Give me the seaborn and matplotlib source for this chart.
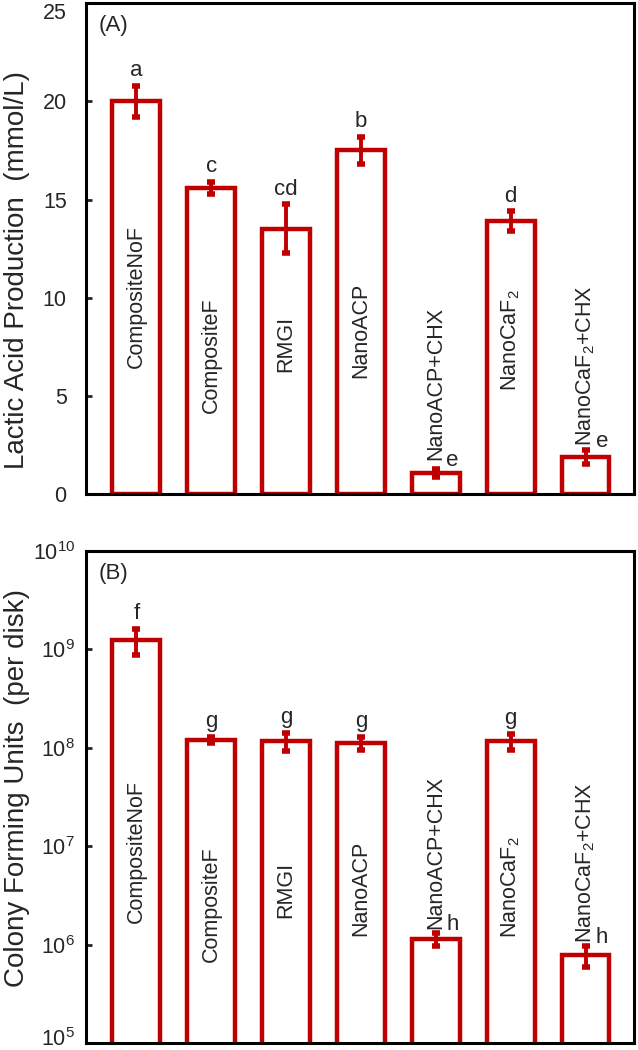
import numpy as np
import pandas as pd
import seaborn as sns
import matplotlib
matplotlib.use('Agg')
import matplotlib.pyplot as plt
import matplotlib.transforms as mtransforms

# data
groups = ['CompositeNoF', 'CompositeF', 'RMGI', 'NanoACP', 'NanoACP+CHX', 'NanoCaF2', 'NanoCaF2+CHX']
bar_labels = ['CompositeNoF', 'CompositeF', 'RMGI', 'NanoACP', 'NanoACP+CHX',
              'NanoCaF$_2$', 'NanoCaF$_2$+CHX']

lactic_mean = [20.0, 15.6, 13.5, 17.5, 1.07, 13.9, 1.88]
lactic_sd = [0.8, 0.3, 1.25, 0.7, 0.2, 0.5, 0.35]
lactic_letters = ['a', 'c', 'cd', 'b', 'e', 'd', 'e']

cfu_mean = [1.25e9, 1.2e8, 1.18e8, 1.12e8, 1.14e6, 1.16e8, 7.8e5]
cfu_sd = [0.37e9, 0.08e8, 0.25e8, 0.18e8, 0.17e6, 0.22e8, 1.9e5]
cfu_letters = ['f', 'g', 'g', 'g', 'h', 'g', 'h']

# label placement inside bars (axes fraction, vertical centre)
lab_y_a = [0.403, 0.283, 0.305, 0.334, 0.226, 0.314, 0.261]
lab_y_b = [0.390, 0.283, 0.311, 0.315, 0.388, 0.317, 0.366]

red = '#C00000'

sns.set_style('white')
plt.rcParams['font.family'] = ['Liberation Sans', 'DejaVu Sans']
plt.rcParams['mathtext.fontset'] = 'custom'
plt.rcParams['mathtext.rm'] = 'Liberation Sans'
plt.rcParams['mathtext.it'] = 'Liberation Sans:italic'
plt.rcParams['mathtext.bf'] = 'Liberation Sans:bold'
plt.rcParams['mathtext.default'] = 'regular'

fig = plt.figure(figsize=(6.38, 10.5), dpi=100)
ax1 = fig.add_axes([0.135, 0.5295, 0.859, 0.4675])
ax2 = fig.add_axes([0.135, 0.0067, 0.859, 0.4685])

df_a = pd.DataFrame({'group': groups, 'value': lactic_mean})
df_b = pd.DataFrame({'group': groups, 'value': cfu_mean})


def draw_panel(ax, df, sd, letters, lab_y, ylabel, tag, ylab_y):
    sns.barplot(data=df, x='group', y='value', ax=ax, fill=False, color=red,
                width=0.64, linewidth=3.2, errorbar=None)
    for p in ax.patches:
        p.set_edgecolor(red)
    x = np.arange(len(df))
    ax.errorbar(x, df['value'], yerr=sd, fmt='none', ecolor=red, elinewidth=2.8,
                capsize=3, capthick=4, zorder=3)
    top = df['value'].values + np.array(sd)
    for i, (t, let) in enumerate(zip(top, letters)):
        if let in ('e', 'h'):
            ax.annotate(let, (i, t), xytext=(12, 6), textcoords='offset points',
                        ha='center', va='center', fontsize=16)
        else:
            ax.annotate(let, (i, t), xytext=(0, 11), textcoords='offset points',
                        ha='center', va='center', fontsize=16)
    for i, (lab, ly) in enumerate(zip(bar_labels, lab_y)):
        ax.text(i, ly, lab, rotation=90, ha='center', va='center', fontsize=15.5,
                transform=ax.get_xaxis_transform())
    ax.text(0.05, 0.955, tag, transform=ax.transAxes, ha='center', va='center', fontsize=16)
    ax.set_xlim(-0.67, 6.65)
    ax.set_xticks([])
    ax.set_xlabel('')
    ax.set_ylabel(ylabel, fontsize=20)
    ax.yaxis.set_label_coords(-0.102, ylab_y)
    for s in ax.spines.values():
        s.set_visible(True)
        s.set_color('black')
        s.set_linewidth(2.2)
    ax.tick_params(axis='y', direction='in', length=4, width=2, labelsize=15.5,
                   left=True)


draw_panel(ax1, df_a, lactic_sd, lactic_letters, lab_y_a,
           'Lactic Acid Production  (mmol/L)', '(A)', 0.456)
ax1.set_ylim(0, 25)
ax1.set_yticks([0, 5, 10, 15, 20, 25])
ax1.tick_params(axis='y', pad=14)

ax2.set_yscale('log')
draw_panel(ax2, df_b, cfu_sd, cfu_letters, lab_y_b,
           'Colony Forming Units  (per disk)', '(B)', 0.518)
ax2.set_ylim(1e5, 1e10)
ax2.set_yticks([1e5, 1e6, 1e7, 1e8, 1e9, 1e10])
ax2.minorticks_off()
ax2.tick_params(axis='y', pad=8)

# keep the end labels inside the figure
ax1.yaxis.get_major_ticks()[-1].label1.set_verticalalignment('top')
lab5 = ax2.yaxis.get_major_ticks()[0].label1
lab5.set_transform(lab5.get_transform() + mtransforms.ScaledTranslation(0, 4 / 72, fig.dpi_scale_trans))

fig.savefig('out.png', dpi=100)
